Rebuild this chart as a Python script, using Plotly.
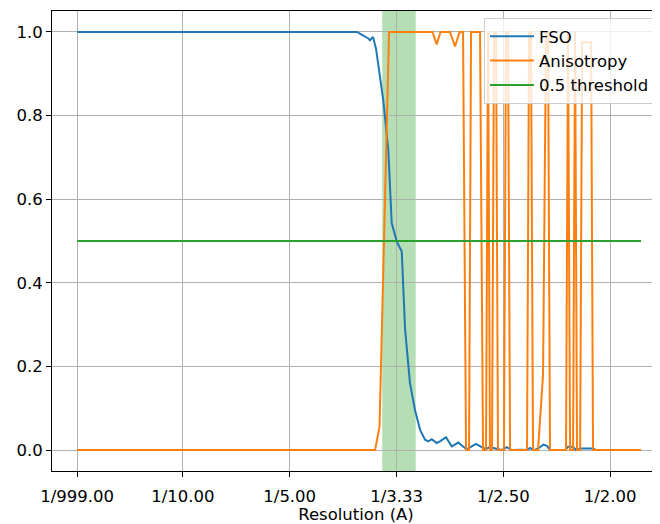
import plotly.graph_objects as go

# spatial frequency (1/A) and values

fso_x = [0.001, 0.2583, 0.2630, 0.2677, 0.2733, 0.2752, 0.2780, 0.2808, 0.2836,
         0.2876, 0.2923, 0.2955, 0.3002, 0.3049, 0.3080, 0.3126, 0.3173, 0.3220,
         0.3267, 0.3298, 0.3330, 0.3376, 0.3407, 0.3463, 0.3517, 0.3579, 0.3620,
         0.3657, 0.3704, 0.3744, 0.3798, 0.3838, 0.3875, 0.3938, 0.3985, 0.4032,
         0.4079, 0.4156, 0.4222, 0.4250, 0.4287, 0.4334, 0.4375, 0.4409, 0.4437,
         0.4578, 0.4606, 0.4653, 0.4681, 0.4719, 0.4840, 0.4859]
fso_y = [1.0, 1.0, 1.0, 0.993, 0.985, 0.98, 0.988, 0.96, 0.91,
         0.837, 0.718, 0.543, 0.499, 0.475, 0.29, 0.16, 0.096, 0.049,
         0.025, 0.021, 0.026, 0.017, 0.021, 0.031, 0.009, 0.018, 0.009,
         0.002, 0.009, 0.015, 0.007, 0.003, 0.007, 0.002, 0.0, 0.007,
         0.0, 0.001, 0.0, 0.005, 0.0, 0.005, 0.013, 0.01, 0.0,
         0.0, 0.008, 0.008, 0.0, 0.004, 0.004, 0.002]

aniso_x = [0.001, 0.2799, 0.2841, 0.2930, 0.3337, 0.3376, 0.3412, 0.3501, 0.3548,
           0.3590, 0.3623, 0.3651, 0.3679, 0.3698, 0.3782, 0.3810, 0.3838, 0.3857,
           0.3875, 0.3894, 0.3913, 0.3932, 0.3950, 0.4006, 0.4025, 0.4044, 0.4063,
           0.4222, 0.4241, 0.4259, 0.4278, 0.4325, 0.4372, 0.4400, 0.4419, 0.4437,
           0.4587, 0.4606, 0.4625, 0.4653, 0.4672, 0.4690, 0.4719, 0.4738, 0.4822,
           0.4840, 0.5290]
aniso_y = [0, 0, 0.056, 1, 1, 0.97, 1, 1, 0.965,
           1, 1, 0, 0, 1, 1, 0, 0, 1,
           0, 0, 1, 1, 0, 0, 1, 1, 0,
           0, 1, 1, 0, 0, 0.18, 1, 1, 0,
           0, 1, 0, 0, 1, 0, 0, 0.975, 0.975,
           0, 0]

thr_x = [0.001, 0.5290]
thr_y = [0.5, 0.5]

band = [0.2866, 0.3180]

tick_vals = [1 / 999, 0.1, 0.2, 0.3, 0.4, 0.5]
tick_text = ["1/999.00", "1/10.00", "1/5.00", "1/3.33", "1/2.50", "1/2.00"]

fig = go.Figure()
fig.add_trace(go.Scatter(x=fso_x, y=fso_y, mode="lines", name="FSO", legendgroup="a",
                         line=dict(color="#1f77b4", width=2)))
fig.add_trace(go.Scatter(x=aniso_x, y=aniso_y, mode="lines", name="Anisotropy", legendgroup="b",
                         line=dict(color="#ff7f0e", width=2)))
fig.add_trace(go.Scatter(x=thr_x, y=thr_y, mode="lines", name="0.5 threshold", legendgroup="c",
                         line=dict(color="#2ca02c", width=2)))

fig.add_shape(type="rect", xref="x", yref="paper", x0=band[0], x1=band[1],
              y0=0, y1=1, fillcolor="rgba(44,160,44,0.35)", line_width=0,
              layer="below")

font = dict(family="DejaVu Sans", size=16.5, color="black")

# page body adds an 8px offset, so the figure is 8px smaller each way
fig.update_layout(
    width=652, height=516,
    margin=dict(l=44, r=0, t=3, b=53),
    paper_bgcolor="white", plot_bgcolor="white",
    font=font,
    showlegend=True,
    legend=dict(x=0.7105, y=0.985, xanchor="left", yanchor="top",
                bgcolor="rgba(255,255,255,0.8)", bordercolor="#cccccc",
                borderwidth=1, font=font, tracegroupgap=0, itemwidth=44),
    xaxis=dict(range=[-0.02257, 0.5467], tickvals=tick_vals, ticktext=tick_text,
               showgrid=True, gridcolor="#b0b0b0", gridwidth=1, zeroline=False,
               showline=True, linecolor="black", linewidth=1, mirror=True,
               ticks="outside", ticklen=5, tickcolor="black", automargin=False,
               tickfont=font, ticklabelstandoff=5,
               title=dict(text="Resolution (A)", standoff=12, font=font)),
    yaxis=dict(range=[-0.05, 1.05], tickvals=[0, 0.2, 0.4, 0.6, 0.8, 1.0],
               ticktext=["0.0", "0.2", "0.4", "0.6", "0.8", "1.0"],
               showgrid=True, gridcolor="#b0b0b0", gridwidth=1, zeroline=False,
               showline=True, linecolor="black", linewidth=1, automargin=False,
               ticks="outside", ticklen=5, tickcolor="black", tickfont=font),
)

fig.write_html("out.html")
